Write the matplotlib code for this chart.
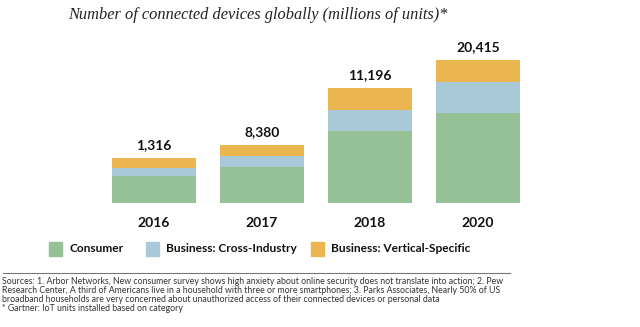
import matplotlib.pyplot as plt
from matplotlib.patches import Rectangle
from matplotlib.lines import Line2D

W, H = 640, 327

years = ['2016', '2017', '2018', '2020']
consumer = [3900, 5150, 10250, 12850]
cross_industry = [1150, 1550, 3000, 4400]
vertical = [1400, 1600, 3150, 3150]
total_labels = ['1,316', '8,380', '11,196', '20,415']

series = [('Consumer', consumer, '#96c197'),
          ('Business: Cross-Industry', cross_industry, '#a9c8d8'),
          ('Business: Vertical-Specific', vertical, '#ebb550')]

fig = plt.figure(figsize=(W / 100, H / 100), dpi=100)
fig.patch.set_facecolor('white')


def fx(px):
    return px / W


def fy(py):
    return 1 - py / H


# axes placed so bar bases sit at y=203 px, tallest bar top at y=60 px
ax = fig.add_axes([fx(100), fy(203), fx(432), (203 - 60) / H])
x = list(range(len(years)))
bottom = [0] * len(years)
for name, vals, col in series:
    ax.bar(x, vals, width=0.78, bottom=bottom, color=col, edgecolor='none')
    bottom = [b + v for b, v in zip(bottom, vals)]

ax.set_xlim(-0.5, 3.5)
ax.set_ylim(0, max(bottom))
for i, lab in enumerate(total_labels):
    ax.annotate(lab, (x[i], bottom[i]), xytext=(0, 5), textcoords='offset points',
                ha='center', va='bottom', fontsize=10, fontweight='bold',
                family='Lato', color='#111111', annotation_clip=False)
    ax.annotate(years[i], (x[i], 0), xytext=(0, -10), textcoords='offset points',
                ha='center', va='top', fontsize=10, fontweight='bold',
                family='Lato', color='#111111', annotation_clip=False)
ax.axis('off')

fig.text(fx(258), fy(15), 'Number of connected devices globally (millions of units)*',
         ha='center', va='center', fontsize=11.8, style='italic',
         family='Liberation Serif', color='#222222')

# legend
leg_x = [49, 146, 311]
for (name, vals, col), lx in zip(series, leg_x):
    fig.add_artist(Rectangle((fx(lx), fy(256)), fx(13), 14 / H, color=col,
                             transform=fig.transFigure))
    fig.text(fx(lx + 20), fy(249), name, ha='left', va='center', fontsize=8.6,
             fontweight='bold', family='Lato', color='#111111')

fig.add_artist(Line2D([fx(3), fx(510)], [fy(273), fy(273)], color='#777777',
                      lw=0.8, transform=fig.transFigure))

footer = ("Sources: 1. Arbor Networks, New consumer survey shows high anxiety about online security does not translate into action; 2. Pew\n"
          "Research Center, A third of Americans live in a household with three or more smartphones; 3. Parks Associates, Nearly 50% of US\n"
          "broadband households are very concerned about unauthorized access of their connected devices or personal data\n"
          "* Gartner: IoT units installed based on category")
fig.text(fx(2), fy(277), footer, ha='left', va='top', fontsize=6.3,
         family='Lato', color='#333333', linespacing=0.98)

fig.savefig('out.png', dpi=100, facecolor='white')
